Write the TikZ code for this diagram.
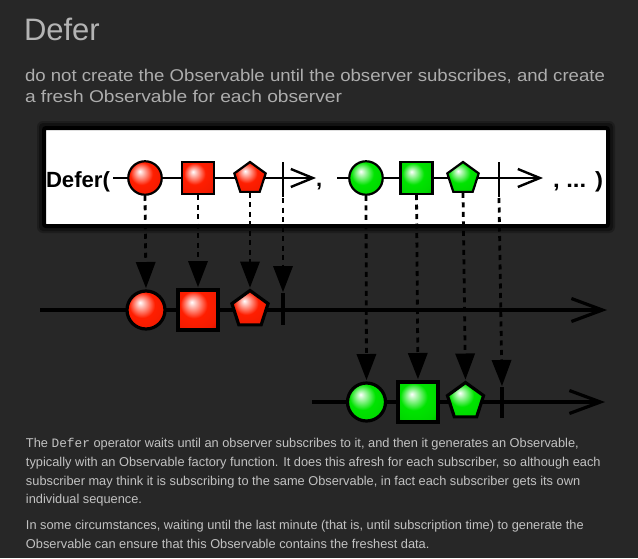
\documentclass[tikz,border=0pt]{standalone}
\usepackage{fontspec}
\setmainfont{Liberation Sans}
\setmonofont{Liberation Mono}
\usetikzlibrary{arrows.meta,shapes.geometric}
\definecolor{bg}{HTML}{272727}
\definecolor{titlec}{HTML}{B4B4B4}
\definecolor{subc}{HTML}{ADADAD}
\definecolor{bodyc}{HTML}{C2C2C2}
\definecolor{redc}{HTML}{FF1E00}
\definecolor{redd}{HTML}{8A0000}
\definecolor{greenc}{HTML}{00E400}
\definecolor{greend}{HTML}{006A00}
\pgfdeclareradialshading{redsh}{\pgfpoint{-8bp}{10bp}}{color(0bp)=(white); color(5bp)=(white!70!redc); color(17bp)=(redc); color(30bp)=(redc!90!redd); color(42bp)=(redc!50!redd); color(50bp)=(redd)}
\pgfdeclareradialshading{greensh}{\pgfpoint{-8bp}{10bp}}{color(0bp)=(white); color(5bp)=(white!70!greenc); color(17bp)=(greenc); color(30bp)=(greenc!90!greend); color(42bp)=(greenc!50!greend); color(50bp)=(greend)}
\tikzset{
  lin1/.style={line width=2.4pt, -{Straight Barb[length=22pt,width=18pt]}},
  lin2/.style={line width=3.2pt, -{Straight Barb[length=31pt,width=23pt]}},
  s1/.style={draw=black, line width=2.2pt, inner sep=0pt, outer sep=0pt},
  s2/.style={draw=black, line width=3.2pt, inner sep=0pt, outer sep=0pt},
  rsh/.style={shading=redsh},
  gsh/.style={shading=greensh},
  crc/.style={circle},
  sqr/.style={rectangle},
  pent/.style={regular polygon, regular polygon sides=5},
  dotarr/.style={line width=2.8pt, dash pattern=on 5pt off 4.5pt, shorten <=1pt, shorten >=3pt, -{Triangle[length=26pt,width=20pt,line width=0pt]}},
  bar1/.style={line width=2.4pt},
  bar2/.style={line width=3.2pt},
  txt/.style={anchor=base west, inner sep=0pt, outer sep=0pt},
  body/.style={txt, text=bodyc, font=\fontsize{12.8}{15}\selectfont},
}
\begin{document}
\begin{tikzpicture}[x=1pt,y=-1pt]
\fill[bg] (0,0) rectangle (638,558);
\useasboundingbox (0,0) rectangle (638,558);

% titles
\node[txt, text=titlec] (title) at (24,40) {\fontsize{31}{36}\selectfont Defer};
\node[txt, text=subc] (sub1) at (25,81) {\resizebox{580pt}{\height}{\fontsize{17}{20}\selectfont do not create the Observable until the observer subscribes, and create}};
\node[txt, text=subc] (sub2) at (25,102) {\resizebox{317pt}{\height}{\fontsize{17}{20}\selectfont a fresh Observable for each observer}};

% box
\fill[black, opacity=0.25, rounded corners=6pt] (37,121) rectangle (615,233);
\fill[black, opacity=0.35, rounded corners=4pt] (39,123) rectangle (613,231);
\node[draw=black, fill=white, line width=4pt, rounded corners=2pt, minimum width=564pt, minimum height=98pt, inner sep=0pt] (box) at (326,177) {};

% row 1 labels
\node[txt] (deflabel) at (46,187) {\resizebox{64pt}{\height}{\fontsize{22}{22}\selectfont\bfseries Defer(}};
\node[txt] (comma) at (316,186) {\fontsize{22}{22}\selectfont\bfseries ,};
\node[txt] (more) at (553,187) {\resizebox{50pt}{\height}{\fontsize{22}{22}\selectfont\bfseries , ... )}};

% coordinates
\coordinate (r1s) at (113,178);
\coordinate (r1e) at (316,178);
\coordinate (g1s) at (337,178);
\coordinate (g1e) at (543,178);
\coordinate (r2s) at (40,310);
\coordinate (r2e) at (607,310);
\coordinate (g3s) at (312,402);
\coordinate (g3e) at (605,402);
\coordinate (rb1t) at (283,162);
\coordinate (rb1b) at (283,197);
\coordinate (gb1t) at (499,162);
\coordinate (gb1b) at (499,197);
\coordinate (rb2t) at (283,293);
\coordinate (rb2b) at (283,325);
\coordinate (gb3t) at (502,387);
\coordinate (gb3b) at (502,418);

% timelines
\draw[lin1] (r1s) -- (r1e);
\draw[lin1] (g1s) -- (g1e);
\draw[lin2] (r2s) -- (r2e);
\draw[lin2] (g3s) -- (g3e);

% bars
\draw[bar1] (rb1t) -- (rb1b);
\draw[bar1] (gb1t) -- (gb1b);
\draw[bar2] (rb2t) -- (rb2b);
\draw[bar2] (gb3t) -- (gb3b);

% row 1 symbols
\node[s1, crc, rsh, minimum size=33.5pt] (r1a) at (145,178) {};
\node[s1, sqr, rsh, minimum size=32pt] (r1b) at (198,178) {};
\node[s1, pent, rsh, minimum size=33pt] (r1c) at (250,178.5) {};
\node[s1, crc, gsh, minimum size=33.5pt] (g1a) at (366,178) {};
\node[s1, sqr, gsh, minimum size=32pt] (g1b) at (416.5,178) {};
\node[s1, pent, gsh, minimum size=33pt] (g1c) at (463,178.5) {};

% row 2 symbols
\node[s2, crc, rsh, minimum size=38pt] (r2a) at (146,310) {};
\node[s2, sqr, rsh, minimum size=40pt] (r2b) at (198,310) {};
\node[s2, pent, rsh, minimum size=38pt] (r2c) at (250,309.5) {};

% row 3 symbols
\node[s2, crc, gsh, minimum size=38pt] (g3a) at (366.5,402) {};
\node[s2, sqr, gsh, minimum size=40pt] (g3b) at (418,402) {};
\node[s2, pent, gsh, minimum size=38pt] (g3c) at (465.5,401.5) {};

% dotted arrows
\draw[dotarr] (r1a.south) -- (r2a.north);
\draw[dotarr] (r1b.south) -- (r2b.north);
\draw[dotarr] (r1c.south) -- (r2c.north);
\draw[dotarr, shorten >=1pt] (rb1b) -- (rb2t);
\draw[dotarr] (g1a.south) -- (g3a.north);
\draw[dotarr] (g1b.south) -- (g3b.north);
\draw[dotarr] (g1c.south) -- (g3c.north);
\draw[dotarr, shorten >=1pt] (gb1b) -- (gb3t);

% body text
\node[body] (p1) at (26,447) {The \texttt{Defer} operator waits until an observer subscribes to it, and then it generates an Observable,};
\node[body] (p2) at (26,466) {typically with an Observable factory function. It does this afresh for each subscriber, so although each};
\node[body] (p3) at (26,485) {subscriber may think it is subscribing to the same Observable, in fact each subscriber gets its own};
\node[body] (p4) at (26,503.5) {individual sequence.};
\node[body] (p5) at (26,529.5) {In some circumstances, waiting until the last minute (that is, until subscription time) to generate the};
\node[body] (p6) at (26,548) {Observable can ensure that this Observable contains the freshest data.};
\end{tikzpicture}
\end{document}
